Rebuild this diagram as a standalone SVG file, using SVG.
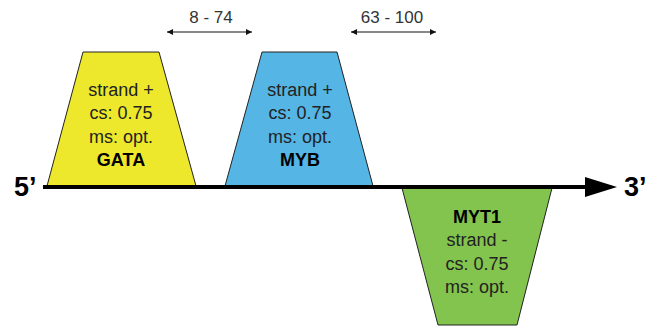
<svg xmlns="http://www.w3.org/2000/svg" width="659" height="329" viewBox="0 0 659 329">
<style>
.box{stroke:#222;stroke-width:1}
.t{font-family:"Liberation Sans",Arial,sans-serif;font-size:18px;fill:#222;text-anchor:middle}
.b{font-weight:bold;fill:#000}
.end{font-family:"Liberation Sans",Arial,sans-serif;font-size:27px;font-weight:bold;fill:#000}
.dim{font-family:"Liberation Sans",Arial,sans-serif;font-size:17px;fill:#333;text-anchor:middle}
</style>
<defs>
<marker id="ah" viewBox="0 0 10 10" refX="10" refY="5" markerWidth="8" markerHeight="6" markerUnits="userSpaceOnUse" orient="auto-start-reverse">
<path d="M0,0 L10,5 L0,10 z" fill="#111"/>
</marker>
</defs>
<rect width="659" height="329" fill="#fff"/>
<g id="gata">
<polygon class="box" points="83,52 159,52 196,186 47,186" fill="#EEE82C"/>
<text class="t" x="121" y="96">strand +</text>
<text class="t" x="121" y="119">cs: 0.75</text>
<text class="t" x="121" y="143">ms: opt.</text>
<text class="t b" x="121" y="166">GATA</text>
</g>
<g id="myb">
<polygon class="box" points="262,52 337,52 373,186 225,186" fill="#55B5E5"/>
<text class="t" x="300" y="96">strand +</text>
<text class="t" x="300" y="119">cs: 0.75</text>
<text class="t" x="300" y="143">ms: opt.</text>
<text class="t b" x="300" y="166">MYB</text>
</g>
<g id="myt1">
<polygon class="box" points="402,188 552,188 517,325 438,325" fill="#82C44D"/>
<text class="t b" x="477" y="223">MYT1</text>
<text class="t" x="477" y="246">strand -</text>
<text class="t" x="477" y="270">cs: 0.75</text>
<text class="t" x="477" y="293">ms: opt.</text>
</g>
<g id="connectors">
<line x1="43" y1="187" x2="590" y2="187" stroke="#000" stroke-width="4"/>
<polygon points="585,177 617,187 585,197" fill="#000"/>
<line x1="167" y1="32" x2="252" y2="32" stroke="#111" stroke-width="1.2" marker-start="url(#ah)" marker-end="url(#ah)"/>
<line x1="351" y1="32" x2="436" y2="32" stroke="#111" stroke-width="1.2" marker-start="url(#ah)" marker-end="url(#ah)"/>
</g>
<g id="labels">
<text class="end" x="14" y="196">5’</text>
<text class="end" x="624" y="196">3’</text>
<text class="dim" x="211" y="23">8 - 74</text>
<text class="dim" x="392" y="23">63 - 100</text>
</g>
</svg>
